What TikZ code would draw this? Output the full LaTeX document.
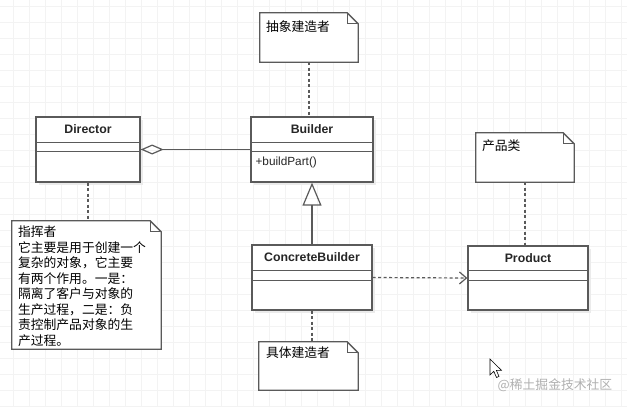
\documentclass[tikz,border=0pt]{standalone}
\usepackage{fontspec}
\setmainfont{Liberation Sans}
\newfontfamily\cjk{Noto Sans CJK SC}
\usetikzlibrary{arrows.meta,shadows}
\definecolor{linec}{HTML}{5A5A5A}
\definecolor{gridc}{HTML}{F3F3F3}
\definecolor{wmark}{HTML}{B0B0B0}
\begin{document}
\begin{tikzpicture}[x=1pt,y=-1pt,
  classbox/.style={draw=linec, line width=1.3pt, fill=white, inner sep=0pt,
    drop shadow={shadow xshift=3pt, shadow yshift=-3pt, fill=black!8, opacity=1}},
  divider/.style={draw=linec, line width=1.3pt},
  notearea/.style={inner sep=0pt},
  noteline/.style={draw=linec, line width=1.3pt, fill=white, line join=miter},
  foldline/.style={draw=linec, line width=0.9pt},
  ctitle/.style={font=\bfseries\fontsize{12.3}{14}\selectfont, text=black!85, inner sep=0pt},
  cop/.style={font=\fontsize{11.8}{14}\selectfont, text=black!85, inner sep=0pt, anchor=west},
  cjktext/.style={font=\cjk\fontsize{12.8}{15.5}\selectfont, align=left, inner sep=0pt, anchor=north west},
  conn/.style={draw=linec, line width=1.3pt},
  dotlink/.style={draw=linec, line width=1.2pt, dash pattern=on 3pt off 2.5pt},
]
\useasboundingbox (0,0) rectangle (627,407);
\fill[white] (0,0) rectangle (627,407);
% background grid
\foreach \x in {13.3,29.3,...,627} \draw[gridc, line width=0.8pt] (\x,0) -- (\x,407);
\foreach \y in {6,22,...,407} \draw[gridc, line width=0.8pt] (0,\y) -- (627,\y);

% ---- classes ----
\node[classbox, minimum width=104pt, minimum height=65pt] (director) at (88,149.5) {};
\node[classbox, minimum width=122pt, minimum height=65pt] (builder) at (312,149.5) {};
\node[classbox, minimum width=120pt, minimum height=65pt] (concrete) at (312,277.5) {};
\node[classbox, minimum width=120pt, minimum height=64pt] (product) at (528,278) {};

\foreach \c/\a/\b in {director/26/35, builder/26/35, concrete/26/36, product/25/35} {
  \draw[divider] ([yshift=-\a pt]\c.north west) -- ([yshift=-\a pt]\c.north east);
  \draw[divider] ([yshift=-\b pt]\c.north west) -- ([yshift=-\b pt]\c.north east);
}
\node[ctitle] (tdirector) at ([yshift=-13pt]director.north) {Director};
\node[ctitle] (tbuilder) at ([yshift=-13pt]builder.north) {Builder};
\node[ctitle] (tconcrete) at ([yshift=-13pt]concrete.north) {ConcreteBuilder};
\node[ctitle] (tproduct) at ([yshift=-12.5pt]product.north) {Product};
\node[cop] (opbuild) at ([xshift=5pt,yshift=-46pt]builder.north west) {+buildPart()};

% ---- notes ----
\node[notearea, minimum width=98pt, minimum height=49pt] (nabs) at (309,37.5) {};
\node[notearea, minimum width=149pt, minimum height=128pt] (ndir) at (86.5,285) {};
\node[notearea, minimum width=99pt, minimum height=48pt] (ncon) at (308.5,366) {};
\node[notearea, minimum width=98pt, minimum height=49pt] (nprod) at (525,157.5) {};

\foreach \n in {nabs, ndir, ncon, nprod} {
  \draw[noteline] (\n.north west) -- ([xshift=-11pt]\n.north east)
     -- ([yshift=-11pt]\n.north east) -- (\n.south east) -- (\n.south west) -- cycle;
  \draw[foldline] ([xshift=-11pt]\n.north east) -- ([xshift=-11pt,yshift=-11pt]\n.north east)
     -- ([yshift=-11pt]\n.north east);
}
\node[cjktext] (tabs) at ([xshift=6pt,yshift=-8pt]nabs.north west) {抽象建造者};
\node[cjktext] (tdir) at ([xshift=6pt,yshift=-5pt]ndir.north west)
  {指挥者\\它主要是用于创建一个\\复杂的对象，它主要\\有两个作用。一是：\\隔离了客户与对象的\\生产过程，二是：负\\责控制产品对象的生\\产过程。};
\node[cjktext] (tcon) at ([xshift=7pt,yshift=-5pt]ncon.north west) {具体建造者};
\node[cjktext] (tprod) at ([xshift=6pt,yshift=-7pt]nprod.north west) {产品类};

% ---- connectors ----
\draw[conn, -{Diamond[open, length=23pt, width=10pt, line width=1.2pt]}] (builder.west) -- (director.east);
\draw[conn, -{Triangle[open, length=23pt, width=19pt, line width=1.2pt]}] (concrete.north) -- (builder.south);
\draw[dotlink, -{Straight Barb[length=7pt, width=12pt, line width=1.2pt]}] (concrete.east) -- (product.west);
\draw[dotlink] (nabs.south) -- (nabs.south |- builder.north);
\draw[dotlink] (director.south) -- (director.south |- ndir.north);
\draw[dotlink] (concrete.south) -- (concrete.south |- ncon.north);
\draw[dotlink] (nprod.south) -- (nprod.south |- product.north);

% ---- cursor and watermark ----
\draw[black, line width=0.6pt, fill=white, line join=miter]
  (490,359) -- (490,375) -- (493.8,371.3) -- (496.5,377.5) -- (499,376.4)
  -- (496.4,370.4) -- (501.5,370.4) -- cycle;
\node[font=\cjk\fontsize{12.8}{14}\selectfont, text=wmark, inner sep=0pt] (wm) at (555,385) {@稀土掘金技术社区};
\end{tikzpicture}
\end{document}
